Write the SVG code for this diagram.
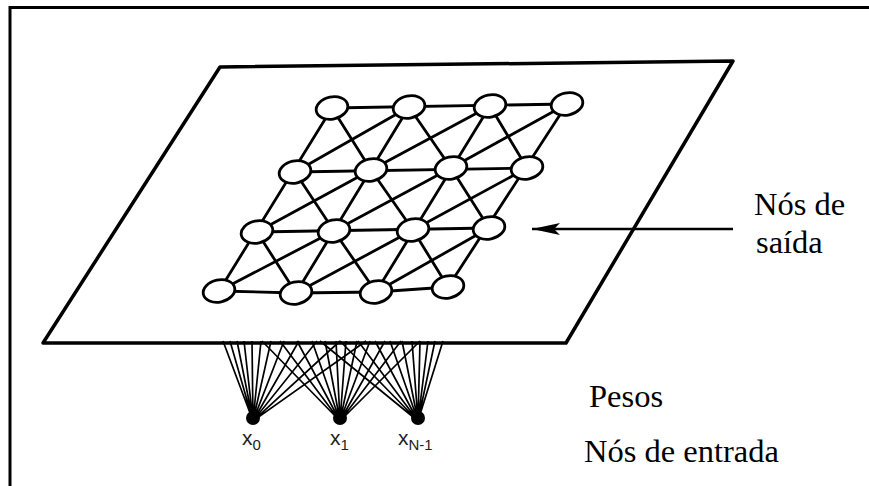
<svg xmlns="http://www.w3.org/2000/svg" width="869" height="486" viewBox="0 0 869 486">
<defs>
<style>
.frame{stroke:#000;stroke-width:3;fill:none}
.plane{stroke:#000;stroke-width:3.5;fill:none;stroke-linejoin:round}
.edge{stroke:#000;stroke-width:2.8;fill:none;stroke-linecap:round}
.node{fill:#fff;stroke:#000;stroke-width:2.8}
.fan{stroke:#000;stroke-width:1.7}
.lbl{font-family:"Liberation Serif","Times New Roman",serif;font-size:32.5px;fill:#000}
.xl{font-family:"Liberation Sans",Arial,sans-serif;font-size:21px;fill:#222}
.xs{font-size:15px}
</style>
<marker id="ah" markerWidth="30" markerHeight="14" refX="28" refY="7" orient="auto" markerUnits="userSpaceOnUse">
<path d="M28,7 L0,1 L6,7 L0,13 Z" fill="#000"/>
</marker>
</defs>
<rect width="869" height="486" fill="#fff"/>
<path class="frame" d="M10,486 V7.5 H869"/>
<path class="plane" d="M220,67 L733,61 L566,343 L43,343 Z"/>
<g id="connectors">
<g id="grid-edges">
<path class="edge" d="M332,108 L567,104 M295,172 L527,168 M257,232 L489,228 M219,291 L296,293 L376,292 L448,287"/>
<path class="edge" d="M332,108 L219,291 M409,107 L296,293 M490,106 L376,292 M567,104 L448,287"/>
<path class="edge" d="M332,108 L371,170 L413,230 L448,287 M409,107 L451,168 L489,228 M490,106 L527,168 M295,172 L334,231 L376,292 M257,232 L296,293"/>
<path class="edge" d="M295,172 L409,107 M257,232 L371,170 L490,106 M219,291 L334,231 L451,168 L567,104 M296,293 L413,230 L527,168 M376,292 L489,228"/>
</g>
<g id="weights">
<path class="fan" d="M253,421 L223,341 M253,421 L230,341 M253,421 L237,341 M253,421 L244,341 M253,421 L252,341 M253,421 L261,341 M253,421 L271,341 M253,421 L284,341 M253,421 L299,341 M253,421 L317,341 M253,421 L340,341 M253,421 L366,341"/>
<path class="fan" d="M340,421 L262,341 M340,421 L280,341 M340,421 L297,341 M340,421 L312,341 M340,421 L325,341 M340,421 L336,341 M340,421 L346,341 M340,421 L357,341 M340,421 L370,341 M340,421 L385,341 M340,421 L401,341 M340,421 L420,341"/>
<path class="fan" d="M418,421 L320,341 M418,421 L340,341 M418,421 L358,341 M418,421 L375,341 M418,421 L390,341 M418,421 L402,341 M418,421 L412,341 M418,421 L420,341 M418,421 L428,341 M418,421 L435,341 M418,421 L443,341"/>
</g>
<g id="arrow">
<line x1="733" y1="229" x2="532" y2="229" stroke="#000" stroke-width="2.5" marker-end="url(#ah)"/>
</g>
</g>
<g id="output-nodes">
<g transform="rotate(-12 332 108)"><ellipse class="node" cx="332" cy="108" rx="16" ry="11"/></g>
<g transform="rotate(-12 409 107)"><ellipse class="node" cx="409" cy="107" rx="16" ry="11"/></g>
<g transform="rotate(-12 490 106)"><ellipse class="node" cx="490" cy="106" rx="16" ry="11"/></g>
<g transform="rotate(-12 567 104)"><ellipse class="node" cx="567" cy="104" rx="16" ry="11"/></g>
<g transform="rotate(-12 295 172)"><ellipse class="node" cx="295" cy="172" rx="16" ry="11"/></g>
<g transform="rotate(-12 371 170)"><ellipse class="node" cx="371" cy="170" rx="16" ry="11"/></g>
<g transform="rotate(-12 451 168)"><ellipse class="node" cx="451" cy="168" rx="16" ry="11"/></g>
<g transform="rotate(-12 527 168)"><ellipse class="node" cx="527" cy="168" rx="16" ry="11"/></g>
<g transform="rotate(-12 257 232)"><ellipse class="node" cx="257" cy="232" rx="16" ry="11"/></g>
<g transform="rotate(-12 334 231)"><ellipse class="node" cx="334" cy="231" rx="16" ry="11"/></g>
<g transform="rotate(-12 413 230)"><ellipse class="node" cx="413" cy="230" rx="16" ry="11"/></g>
<g transform="rotate(-12 489 228)"><ellipse class="node" cx="489" cy="228" rx="16" ry="11"/></g>
<g transform="rotate(-12 219 291)"><ellipse class="node" cx="219" cy="291" rx="16" ry="11"/></g>
<g transform="rotate(-12 296 293)"><ellipse class="node" cx="296" cy="293" rx="16" ry="11"/></g>
<g transform="rotate(-12 376 292)"><ellipse class="node" cx="376" cy="292" rx="16" ry="11"/></g>
<g transform="rotate(-12 448 287)"><ellipse class="node" cx="448" cy="287" rx="16" ry="11"/></g>
</g>
<g id="input-x0"><circle cx="253" cy="418" r="7"/><text class="xl" x="242" y="445">x<tspan class="xs" dy="5">0</tspan></text></g>
<g id="input-x1"><circle cx="340" cy="418" r="7"/><text class="xl" x="330" y="445">x<tspan class="xs" dy="5">1</tspan></text></g>
<g id="input-xN-1"><circle cx="418" cy="418" r="7"/><text class="xl" x="398" y="445">x<tspan class="xs" dy="5">N-1</tspan></text></g>
<g id="label-saida"><text class="lbl" x="754" y="215">Nós de</text><text class="lbl" x="756" y="253">saída</text></g>
<text id="label-pesos" class="lbl" x="589" y="407">Pesos</text>
<text id="label-entrada" class="lbl" x="584" y="462">Nós de entrada</text>
</svg>
